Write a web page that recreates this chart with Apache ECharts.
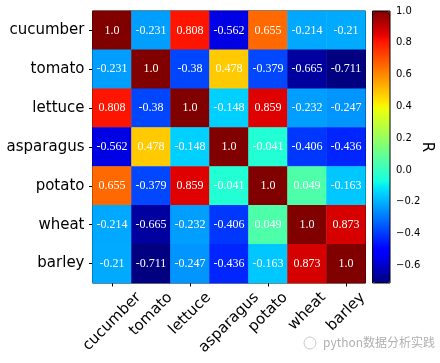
<!DOCTYPE html>
<html><head><meta charset="utf-8">
<script src="https://cdn.jsdelivr.net/npm/echarts@6/dist/echarts.min.js"></script>
<style>html,body{margin:0;padding:0;background:#fff;}#c{width:440px;height:363px;}</style>
</head><body><div id="c"></div>
<script>
const categories = ['cucumber','tomato','lettuce','asparagus','potato','wheat','barley'];
const rowCucumber  = [1.0, -0.231, 0.808, -0.562, 0.655, -0.214, -0.21];
const rowTomato    = [-0.231, 1.0, -0.38, 0.478, -0.379, -0.665, -0.711];
const rowLettuce   = [0.808, -0.38, 1.0, -0.148, 0.859, -0.232, -0.247];
const rowAsparagus = [-0.562, 0.478, -0.148, 1.0, -0.041, -0.406, -0.436];
const rowPotato    = [0.655, -0.379, 0.859, -0.041, 1.0, 0.049, -0.163];
const rowWheat     = [-0.214, -0.665, -0.232, -0.406, 0.049, 1.0, 0.873];
const rowBarley    = [-0.21, -0.711, -0.247, -0.436, -0.163, 0.873, 1.0];
const colorbarTicks = [-0.6, -0.4, -0.2, 0.0, 0.2, 0.4, 0.6, 0.8, 1.0];
const vMin = -0.711, vMax = 1.0;

const rows = [rowCucumber,rowTomato,rowLettuce,rowAsparagus,rowPotato,rowWheat,rowBarley];
const data = [];
rows.forEach((r, yi) => r.forEach((v, xi) => data.push([xi, yi, v])));

// matplotlib 'jet' colormap
function seg(pts, x){
  for (let i=1;i<pts.length;i++){
    if (x <= pts[i][0]) {
      const [x0,y0]=pts[i-1],[x1,y1]=pts[i];
      return y0 + (y1-y0)*(x-x0)/(x1-x0);
    }
  }
  return pts[pts.length-1][1];
}
const R=[[0,0],[0.35,0],[0.66,1],[0.89,1],[1,0.5]];
const G=[[0,0],[0.125,0],[0.375,1],[0.64,1],[0.91,0],[1,0]];
const B=[[0,0.5],[0.11,1],[0.34,1],[0.65,0],[1,0]];
const jet=[];
for(let i=0;i<=128;i++){const t=i/128;
  jet.push('rgb('+Math.round(255*seg(R,t))+','+Math.round(255*seg(G,t))+','+Math.round(255*seg(B,t))+')');}

const fmtTick = v => (v<0?'\u2212':'') + Math.abs(v).toFixed(1);

const chart = echarts.init(document.getElementById('c'), null, {renderer:'canvas'});
const baseGraphics = [
  {type:'rect', z:100, silent:true, shape:{x:372.5,y:11,width:17.5,height:272}, style:{fill:'none',stroke:'#000',lineWidth:1}},
  {type:'text', z:100, x:427, y:147, rotation:-Math.PI/2, style:{text:'R', font:'15px "DejaVu Sans"', fill:'#000', align:'center', verticalAlign:'middle'}},
  {type:'text', z:100, left:323, top:336, style:{text:'python数据分析实践', font:'12px "Noto Sans CJK SC"', fill:'#b0b0b0'}},
  {type:'circle', z:100, shape:{cx:310, cy:343, r:6}, style:{fill:'none', stroke:'#c8c8c8', lineWidth:1}}
];
chart.setOption({
  animation:false,
  grid:[
    {left:92.5, top:11, width:273, height:272, show:true, borderColor:'#000', borderWidth:1, backgroundColor:'transparent'},
    {left:372.5, top:11, width:17.5, height:272, show:false}
  ],
  xAxis:[
    {type:'category', data:categories, gridIndex:0, position:'bottom',
     axisLine:{show:false}, splitLine:{show:false},
     axisTick:{show:true, alignWithLabel:true, length:3.5, lineStyle:{color:'#000'}},
     axisLabel:{show:false}},
    {type:'value', gridIndex:1, show:false, min:0, max:1}
  ],
  yAxis:[
    {type:'category', data:categories, gridIndex:0, inverse:true,
     axisLine:{show:false}, splitLine:{show:false},
     axisTick:{show:true, alignWithLabel:true, length:3.5, lineStyle:{color:'#000'}},
     axisLabel:{interval:0, margin:8, fontFamily:'DejaVu Sans', fontSize:15, color:'#000'}},
    {type:'value', gridIndex:1, position:'right', min:vMin, max:vMax,
     axisLine:{show:false}, splitLine:{show:false},
     axisTick:{show:true, length:3.5, lineStyle:{color:'#000'}, customValues:colorbarTicks},
     axisLabel:{margin:6, fontFamily:'DejaVu Sans', fontSize:10, color:'#000', customValues:colorbarTicks, formatter:fmtTick}}
  ],
  visualMap:{
    type:'continuous', min:vMin, max:vMax, calculable:false, show:true,
    left:372.5, top:11, itemWidth:17.5, itemHeight:272, padding:0, text:null, showLabel:false,
    inRange:{color:jet}, seriesIndex:0, hoverLink:false
  },
  series:[{
    type:'heatmap', xAxisIndex:0, yAxisIndex:0, data:data,
    label:{show:true, color:'#fff', fontFamily:'"Liberation Serif", serif', fontSize:12,
      formatter:p=>{const v=p.value[2]; return v===1?'1.0':String(v);}},
    itemStyle:{borderWidth:0},
    emphasis:{disabled:true}
  }],
  graphic: baseGraphics
});

// x tick labels, rotated 45deg and centred on their ticks (matplotlib style)
const cvs=document.createElement('canvas').getContext('2d');
cvs.font='15px "DejaVu Sans"';
const H=17.5;
const labelTop = 289;
const xLabels = categories.map((c,i)=>{
  const px = chart.convertToPixel({gridIndex:0}, [i, 0]);
  const L = cvs.measureText(c).width;
  const cy = labelTop + (L+H)*0.7071/2;
  return {type:'text', z:100, x:px[0], y:cy, rotation:Math.PI/4,
    style:{text:c, font:'15px "DejaVu Sans"', fill:'#000', align:'center', verticalAlign:'middle'}};
});
chart.setOption({graphic: baseGraphics.concat(xLabels)}, {replaceMerge:['graphic']});
</script></body></html>
